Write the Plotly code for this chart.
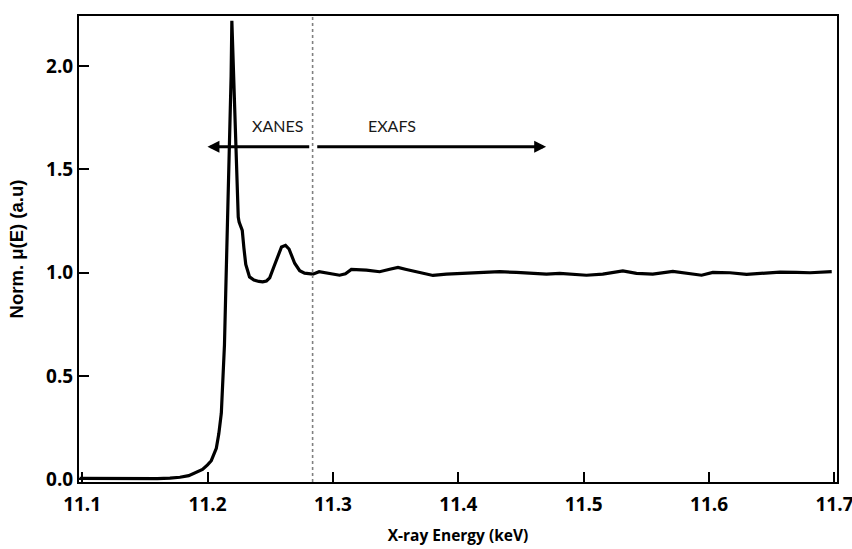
import plotly.graph_objects as go

# Normalised absorption spectrum (energy in keV)
energy = [
    11.098, 11.110, 11.120, 11.140, 11.160, 11.170, 11.178, 11.185, 11.190,
    11.196, 11.200, 11.203, 11.207, 11.209, 11.211, 11.2125, 11.2135, 11.2145,
    11.2165, 11.2176, 11.2188, 11.2194, 11.2205, 11.2215, 11.2223, 11.2235,
    11.2245, 11.2252, 11.2262, 11.2277, 11.2290, 11.2305, 11.2335, 11.2370,
    11.2410, 11.2440, 11.2470, 11.2496, 11.2530, 11.2565, 11.2590, 11.2622,
    11.2650, 11.2695, 11.2735, 11.2774, 11.2840, 11.2890, 11.2950, 11.3053,
    11.3100, 11.3147, 11.3267, 11.3373, 11.3453, 11.3519, 11.3586, 11.3692,
    11.3798, 11.3905, 11.4065, 11.4224, 11.4330, 11.4464, 11.4594, 11.4703,
    11.4809, 11.4913, 11.5022, 11.5152, 11.5312, 11.5421, 11.5551, 11.5711,
    11.5820, 11.5940, 11.6030, 11.6166, 11.6299, 11.6429, 11.6565, 11.6698,
    11.6805, 11.6978,
]
mu_norm = [
    0.005, 0.004, 0.003, 0.002, 0.003, 0.006, 0.010, 0.018, 0.030,
    0.048, 0.070, 0.090, 0.150, 0.220, 0.320, 0.480, 0.650, 0.900,
    1.350, 1.610, 1.950, 2.220, 2.000, 1.750, 1.600, 1.400,
    1.270, 1.245, 1.225, 1.205, 1.120, 1.040, 0.980, 0.965,
    0.958, 0.956, 0.960, 0.975, 1.030, 1.090, 1.125, 1.133,
    1.115, 1.046, 1.010, 0.998, 0.993, 1.005, 0.998, 0.988,
    0.995, 1.016, 1.013, 1.005, 1.017, 1.026, 1.016, 1.000,
    0.987, 0.993, 0.997, 1.000, 1.005, 1.002, 0.997, 0.993,
    0.997, 0.992, 0.988, 0.993, 1.009, 0.997, 0.993, 1.007,
    0.997, 0.988, 1.002, 1.000, 0.992, 0.997, 1.003, 1.002,
    1.000, 1.005,
]

# Region boundaries (keV) and labels
edge_split = 11.2838
xanes_start = 11.200
exafs_end = 11.470
arrow_level = 1.61
region_labels = ["XANES", "EXAFS"]
region_label_x = [11.256, 11.347]
region_label_y = 1.715

x_ticks = [11.1, 11.2, 11.3, 11.4, 11.5, 11.6, 11.7]
y_ticks = [0.0, 0.5, 1.0, 1.5, 2.0]

fig = go.Figure()
fig.add_trace(go.Scatter(
    x=energy, y=mu_norm, mode="lines",
    line=dict(color="black", width=3.2),
    showlegend=False, hoverinfo="skip",
))

# Dotted boundary between XANES and EXAFS
fig.add_shape(type="line", xref="x", yref="paper",
              x0=edge_split, x1=edge_split, y0=0, y1=1,
              line=dict(color="#808080", width=1.6, dash="dot"))

# Region arrows
arrow_style = dict(showarrow=True, arrowhead=2, arrowsize=0.85, arrowwidth=2.8,
                   arrowcolor="black", axref="x", ayref="y", text="")
fig.add_annotation(x=xanes_start, y=arrow_level, ax=edge_split - 0.0015,
                   ay=arrow_level, **arrow_style)
fig.add_annotation(x=exafs_end, y=arrow_level, ax=edge_split + 0.0025,
                   ay=arrow_level, **arrow_style)

for lbl, lx in zip(region_labels, region_label_x):
    fig.add_annotation(x=lx, y=region_label_y, text=lbl, showarrow=False,
                       font=dict(family="Lato", size=16, color="#1a1a1a"))

axis_common = dict(
    showline=True, linecolor="black", linewidth=2, mirror=True,
    ticks="inside", ticklen=10, tickwidth=2, tickcolor="black",
    showgrid=False, zeroline=False, ticklabeloverflow="allow",
    automargin=False,
    tickfont=dict(family="Open Sans", size=19, color="black", weight="bold"),
)

fig.update_layout(
    width=852, height=549,
    margin=dict(l=79, r=15, t=16, b=67),
    paper_bgcolor="white", plot_bgcolor="white",
    xaxis=dict(range=[11.0975, 11.702], tickvals=x_ticks,
               ticktext=[f"{v:.1f}" for v in x_ticks],
               ticklabelstandoff=4,
               title=dict(text="X-ray Energy (keV)", standoff=14,
                          font=dict(family="Open Sans", size=15.5,
                                    color="black", weight="bold")),
               **axis_common),
    yaxis=dict(range=[-0.013, 2.243], tickvals=y_ticks,
               ticktext=[f"{v:.1f}" for v in y_ticks],
               title=dict(text="Norm. μ(E) (a.u)", standoff=18,
                          font=dict(family="Liberation Sans", size=18.5,
                                    color="black", weight="bold")),
               **axis_common),
)

fig.write_html("out.html")
